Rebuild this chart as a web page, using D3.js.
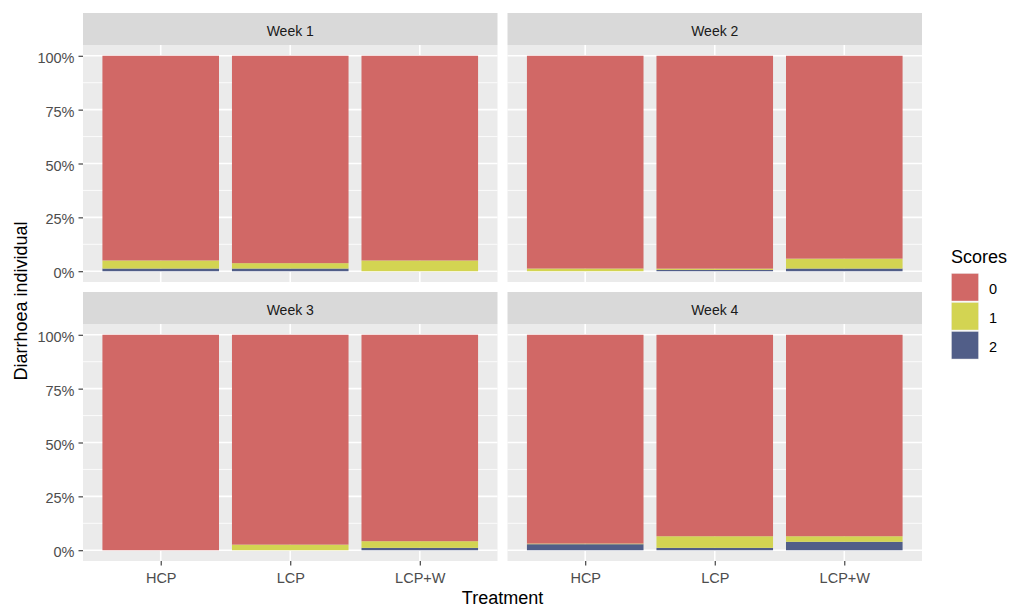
<!DOCTYPE html>
<html>
<head>
<meta charset="utf-8">
<script src="https://cdn.jsdelivr.net/npm/d3@7"></script>
<style>
  html, body { margin: 0; padding: 0; background: #fff; }
  svg text { font-family: "Liberation Sans", Arial, sans-serif; }
</style>
</head>
<body>
<svg id="chart" width="1010" height="608"></svg>
<script>
// Facets, categories and stacked shares (%) per score level
const weeks = ["Week 1", "Week 2", "Week 3", "Week 4"];
const treatments = ["HCP", "LCP", "LCP+W"];
const scores = ["0", "1", "2"];
// one row per week, one value per treatment
const score0 = [
  [95.0, 96.25, 95.0],
  [98.75, 98.8, 94.15],
  [100.0, 97.4, 95.8],
  [96.9, 93.5, 93.5]
];
const score1 = [
  [3.75, 2.5, 5.0],
  [1.25, 0.6, 4.6],
  [0.0, 2.6, 3.1],
  [0.3, 5.4, 2.6]
];
const score2 = [
  [1.25, 1.25, 0.0],
  [0.0, 0.6, 1.25],
  [0.0, 0.0, 1.1],
  [2.8, 1.1, 3.9]
];
const yTicks = [0, 0.25, 0.5, 0.75, 1];
const yMinor = [0.125, 0.375, 0.625, 0.875];
const legendTitle = "Scores";
const xTitle = "Treatment";
const yTitle = "Diarrhoea individual";

const colors = { "0": "#D16866", "1": "#D3D452", "2": "#515E88" };

const svg = d3.select("#chart");

// facet grid geometry
const left = 83, right = 922, gapX = 10;
const panelW = (right - left - gapX) / 2;
const stripTop = 13, stripH = 32, panelH = 237, gapY = 10;

// build stacked rows per facet
const rows = weeks.map((w, wi) => treatments.map((t, ti) => {
  const vals = { "0": score0[wi][ti], "1": score1[wi][ti], "2": score2[wi][ti] };
  const total = vals["0"] + vals["1"] + vals["2"];
  return { week: w, treatment: t, pos: ti + 1,
    "0": vals["0"] / total, "1": vals["1"] / total, "2": vals["2"] / total };
}));

// stack bottom-up: score 2, then 1, then 0 on top
const stack = d3.stack().keys(["2", "1", "0"]);

weeks.forEach((w, wi) => {
  const col = wi % 2, row = Math.floor(wi / 2);
  const px0 = left + col * (panelW + gapX);
  const sy = stripTop + row * (stripH + panelH + gapY);
  const py0 = sy + stripH;

  const x = d3.scaleLinear().domain([0.4, 3.6]).range([px0, px0 + panelW]);
  const y = d3.scaleLinear().domain([-0.05, 1.05]).range([py0 + panelH, py0]);

  const g = svg.append("g");

  // strip
  g.append("rect").attr("x", px0).attr("y", sy).attr("width", panelW).attr("height", stripH)
    .attr("fill", "#D9D9D9");
  g.append("text").attr("x", px0 + panelW / 2).attr("y", sy + stripH / 2 + 7)
    .attr("text-anchor", "middle").attr("font-size", "14px").attr("fill", "#1A1A1A")
    .text(w);

  // panel background
  g.append("rect").attr("x", px0).attr("y", py0).attr("width", panelW).attr("height", panelH)
    .attr("fill", "#EBEBEB");

  // grid
  g.selectAll(".ymin").data(yMinor).join("line")
    .attr("x1", px0).attr("x2", px0 + panelW)
    .attr("y1", d => y(d)).attr("y2", d => y(d))
    .attr("stroke", "#fff").attr("stroke-width", 0.8);
  g.selectAll(".ymaj").data(yTicks).join("line")
    .attr("x1", px0).attr("x2", px0 + panelW)
    .attr("y1", d => y(d)).attr("y2", d => y(d))
    .attr("stroke", "#fff").attr("stroke-width", 1.6);
  g.selectAll(".xmaj").data([1, 2, 3]).join("line")
    .attr("x1", d => x(d)).attr("x2", d => x(d))
    .attr("y1", py0).attr("y2", py0 + panelH)
    .attr("stroke", "#fff").attr("stroke-width", 1.6);

  // bars
  const series = stack(rows[wi]);
  series.forEach(s => {
    g.selectAll(null).data(s).join("rect")
      .attr("x", d => x(d.data.pos - 0.45))
      .attr("width", d => x(d.data.pos + 0.45) - x(d.data.pos - 0.45))
      .attr("y", d => y(d[1]))
      .attr("height", d => y(d[0]) - y(d[1]))
      .attr("fill", colors[s.key]);
  });

  // y axis on left column
  if (col === 0) {
    const ya = g.append("g").attr("transform", `translate(${px0},0)`)
      .call(d3.axisLeft(y).tickValues(yTicks).tickSize(4.5).tickPadding(4)
        .tickFormat(d => Math.round(d * 100) + "%"));
    ya.select(".domain").remove();
    ya.selectAll(".tick line").attr("stroke", "#333").attr("stroke-width", 1.1);
    ya.selectAll(".tick text").attr("font-size", "14.5px").attr("fill", "#4D4D4D")
      .attr("dy", "0.45em")
      .attr("font-family", "Liberation Sans, Arial, sans-serif");
  }
  // x axis on bottom row
  if (row === 1) {
    const xa = g.append("g").attr("transform", `translate(0,${py0 + panelH})`)
      .call(d3.axisBottom(x).tickValues([1, 2, 3]).tickSize(4.5).tickPadding(7)
        .tickFormat(d => treatments[d - 1]));
    xa.select(".domain").remove();
    xa.selectAll(".tick line").attr("stroke", "#333").attr("stroke-width", 1.1);
    xa.selectAll(".tick text").attr("font-size", "14.5px").attr("fill", "#4D4D4D")
      .attr("font-family", "Liberation Sans, Arial, sans-serif");
  }
});

// axis titles
svg.append("text").attr("x", (left + right) / 2).attr("y", 604)
  .attr("text-anchor", "middle").attr("font-size", "18px").attr("fill", "#000")
  .text(xTitle);
const midY = (stripTop + stripTop + 2 * (stripH + panelH) + gapY) / 2 + stripH / 2;
svg.append("text")
  .attr("transform", `translate(27,${midY - 2}) rotate(-90)`)
  .attr("text-anchor", "middle").attr("font-size", "18px").attr("fill", "#000")
  .text(yTitle);

// legend
const lg = svg.append("g").attr("transform", "translate(951,0)");
lg.append("text").attr("x", 0).attr("y", 263).attr("font-size", "18px").attr("fill", "#000")
  .text(legendTitle);
const keyY = d3.scaleBand().domain(scores).range([273, 360]).paddingInner(0);
lg.selectAll(".key").data(scores).join("rect")
  .attr("x", 0).attr("y", d => keyY(d))
  .attr("width", 28).attr("height", keyY.bandwidth() - 0.5)
  .attr("fill", "#F2F2F2");
lg.selectAll(".keyfill").data(scores).join("rect")
  .attr("x", 0.7).attr("y", d => keyY(d) + 0.7)
  .attr("width", 26.6).attr("height", keyY.bandwidth() - 1.9)
  .attr("fill", d => colors[d]);
lg.selectAll(".klab").data(scores).join("text")
  .attr("x", 38).attr("y", d => keyY(d) + keyY.bandwidth() / 2 + 6)
  .attr("font-size", "14.5px").attr("fill", "#000")
  .text(d => d);
</script>
</body>
</html>
